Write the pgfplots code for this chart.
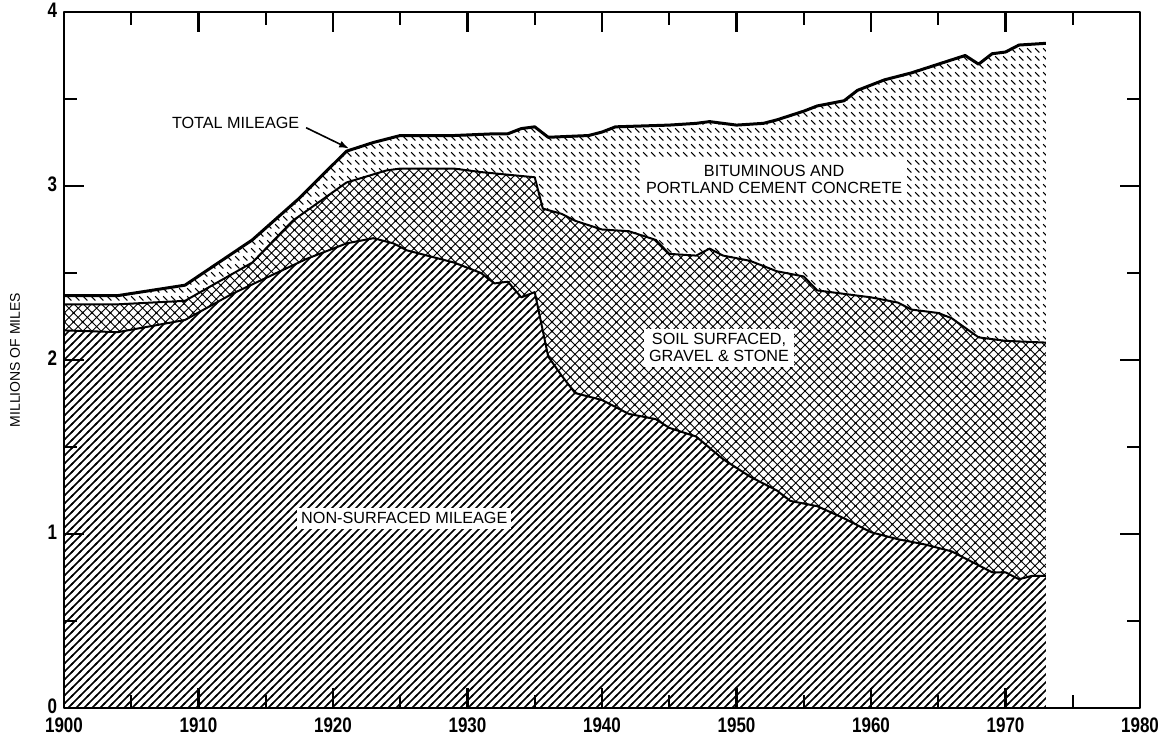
\documentclass[border=0pt]{standalone}
\usepackage{fontspec}
\setmainfont{Liberation Sans}
\newfontfamily\tickfont{Liberation Sans}[FakeStretch=0.81]
\usepackage{pgfplots}
\pgfplotsset{compat=1.18}
\usepackage{pgfplotstable}
\usetikzlibrary{patterns,arrows.meta}

% hatch patterns of the three road classes
\pgfdeclarepatternformonly{nehatch}{\pgfqpoint{-1bp}{-1bp}}{\pgfqpoint{5bp}{5bp}}{\pgfqpoint{4bp}{4bp}}{%
  \pgfsetlinewidth{0.75bp}%
  \pgfpathmoveto{\pgfqpoint{-0.5bp}{-0.5bp}}\pgfpathlineto{\pgfqpoint{4.5bp}{4.5bp}}%
  \pgfusepath{stroke}}
\pgfdeclarepatternformonly{xhatch}{\pgfqpoint{-1bp}{-1bp}}{\pgfqpoint{5.6bp}{5.6bp}}{\pgfqpoint{4.6bp}{4.6bp}}{%
  \pgfsetlinewidth{0.45bp}%
  \pgfpathmoveto{\pgfqpoint{-0.5bp}{-0.5bp}}\pgfpathlineto{\pgfqpoint{5.1bp}{5.1bp}}%
  \pgfpathmoveto{\pgfqpoint{-0.5bp}{5.1bp}}\pgfpathlineto{\pgfqpoint{5.1bp}{-0.5bp}}%
  \pgfusepath{stroke}}
\pgfdeclarepatternformonly{nwdash}{\pgfqpoint{0bp}{0bp}}{\pgfqpoint{4.2bp}{4.2bp}}{\pgfqpoint{4.2bp}{4.2bp}}{%
  \pgfsetlinewidth{0.55bp}%
  \pgfpathmoveto{\pgfqpoint{0.6bp}{3.6bp}}\pgfpathlineto{\pgfqpoint{2.9bp}{1.3bp}}%
  \pgfusepath{stroke}}

% total mileage (millions of miles)
\pgfplotstableread{
year val
1900 2.37
1904 2.37
1909 2.43
1914 2.69
1917.5 2.93
1921 3.20
1923 3.25
1925 3.29
1929 3.29
1932 3.30
1933 3.30
1934 3.33
1935 3.34
1936 3.28
1939 3.29
1940 3.31
1941 3.34
1945 3.35
1947 3.36
1948 3.37
1950 3.35
1952 3.36
1953 3.38
1955 3.43
1956 3.46
1958 3.49
1959 3.55
1961 3.61
1963 3.65
1965 3.70
1967 3.75
1968 3.70
1969 3.76
1970 3.77
1971 3.81
1973 3.82
}\total

% non-surfaced + soil, gravel and stone
\pgfplotstableread{
year val
1900 2.32
1904 2.32
1909 2.34
1914 2.56
1917 2.80
1921 3.02
1924 3.09
1925 3.10
1929 3.10
1931 3.08
1935 3.05
1935.6 2.87
1937 2.84
1938 2.80
1940 2.75
1942 2.74
1944 2.69
1945 2.61
1947 2.60
1948 2.64
1949 2.60
1951 2.57
1953 2.51
1955 2.48
1956 2.40
1958 2.38
1960 2.36
1962 2.33
1963 2.29
1965 2.27
1966 2.24
1968 2.13
1970 2.11
1973 2.10
}\soil

% non-surfaced mileage
\pgfplotstableread{
year val
1900 2.17
1904 2.16
1909 2.23
1912.5 2.38
1918 2.58
1921 2.67
1923 2.70
1924.5 2.67
1925.5 2.63
1929 2.56
1931 2.50
1932 2.44
1933 2.45
1934 2.36
1935 2.39
1936 2.02
1937 1.91
1938 1.81
1940 1.77
1942 1.69
1944 1.66
1945 1.61
1947 1.56
1949 1.43
1950 1.38
1951 1.33
1953 1.25
1954 1.19
1956 1.16
1958 1.09
1960 1.01
1962 0.97
1964 0.94
1966 0.90
1968 0.82
1969 0.78
1970 0.78
1971 0.74
1972 0.76
1973 0.76
}\nonsurf

\begin{document}
\begin{tikzpicture}
\begin{axis}[
  scale only axis, width=538bp, height=348bp,
  xmin=1900, xmax=1980, ymin=0, ymax=4,
  xtick={1900,1910,...,1980},
  xticklabels={1900,1910,1920,1930,1940,1950,1960,1970,1980},
  minor xtick={1905,1915,...,1975},
  ytick={0,1,2,3,4}, yticklabels={0,1,2,3,4},
  minor ytick={0.5,1.5,2.5,3.5},
  major tick length=10bp, minor tick length=6.5bp,
  every tick/.style={black, line width=1.1bp},
  axis line style={line width=1bp},
  tick label style={font=\fontsize{10.5bp}{12bp}\tickfont\bfseries},
  xticklabel style={yshift=-1.5bp},
  yticklabel style={yshift=1bp},
  ylabel={MILLIONS OF MILES},
  every axis y label/.style={at={(axis description cs:0,0.5)}, rotate=90,
    anchor=center, yshift=24.5bp, font=\fontsize{7bp}{8bp}\selectfont},
  axis on top,
  line join=round,
]
\addplot[draw=none, pattern=nwdash] table[x=year,y=val] {\total} \closedcycle;
\addplot[draw=none, fill=white, postaction={pattern=xhatch}] table[x=year,y=val] {\soil} \closedcycle;
\addplot[draw=none, fill=white, postaction={pattern=nehatch}] table[x=year,y=val] {\nonsurf} \closedcycle;
\addplot[black, line width=1.5bp] table[x=year,y=val] {\total};
\addplot[black, line width=1bp] table[x=year,y=val] {\soil};
\addplot[black, line width=1bp] table[x=year,y=val] {\nonsurf};

\node[fill=white, inner xsep=2.5bp, inner ysep=2.5bp, align=center,
  font=\fontsize{8.1bp}{8.5bp}\selectfont] at (axis cs:1952.8,3.04)
  {BITUMINOUS AND\\PORTLAND CEMENT CONCRETE};
\node[fill=white, inner xsep=2.5bp, inner ysep=2.5bp, align=center,
  font=\fontsize{8.1bp}{8.5bp}\selectfont] at (axis cs:1948.7,2.07)
  {SOIL SURFACED,\\GRAVEL \& STONE};
\node[fill=white, inner xsep=2bp, inner ysep=2.5bp,
  font=\fontsize{8.1bp}{8.5bp}\selectfont] at (axis cs:1925.3,1.09)
  {NON-SURFACED MILEAGE};
\node[anchor=west, inner sep=0pt, font=\fontsize{8.1bp}{8.5bp}\selectfont]
  at (axis cs:1908.0,3.36) {TOTAL MILEAGE};
\draw[-{Latex[length=5bp,width=3.5bp]}, line width=0.8bp]
  (axis cs:1918.0,3.335) -- (axis cs:1921.2,3.215);
\end{axis}
\pgfresetboundingbox
\path[use as bounding box] ([shift={(-32bp,-14bp)}]current axis.south west)
  rectangle ([shift={(11bp,6bp)}]current axis.north east);
\end{tikzpicture}
\end{document}
